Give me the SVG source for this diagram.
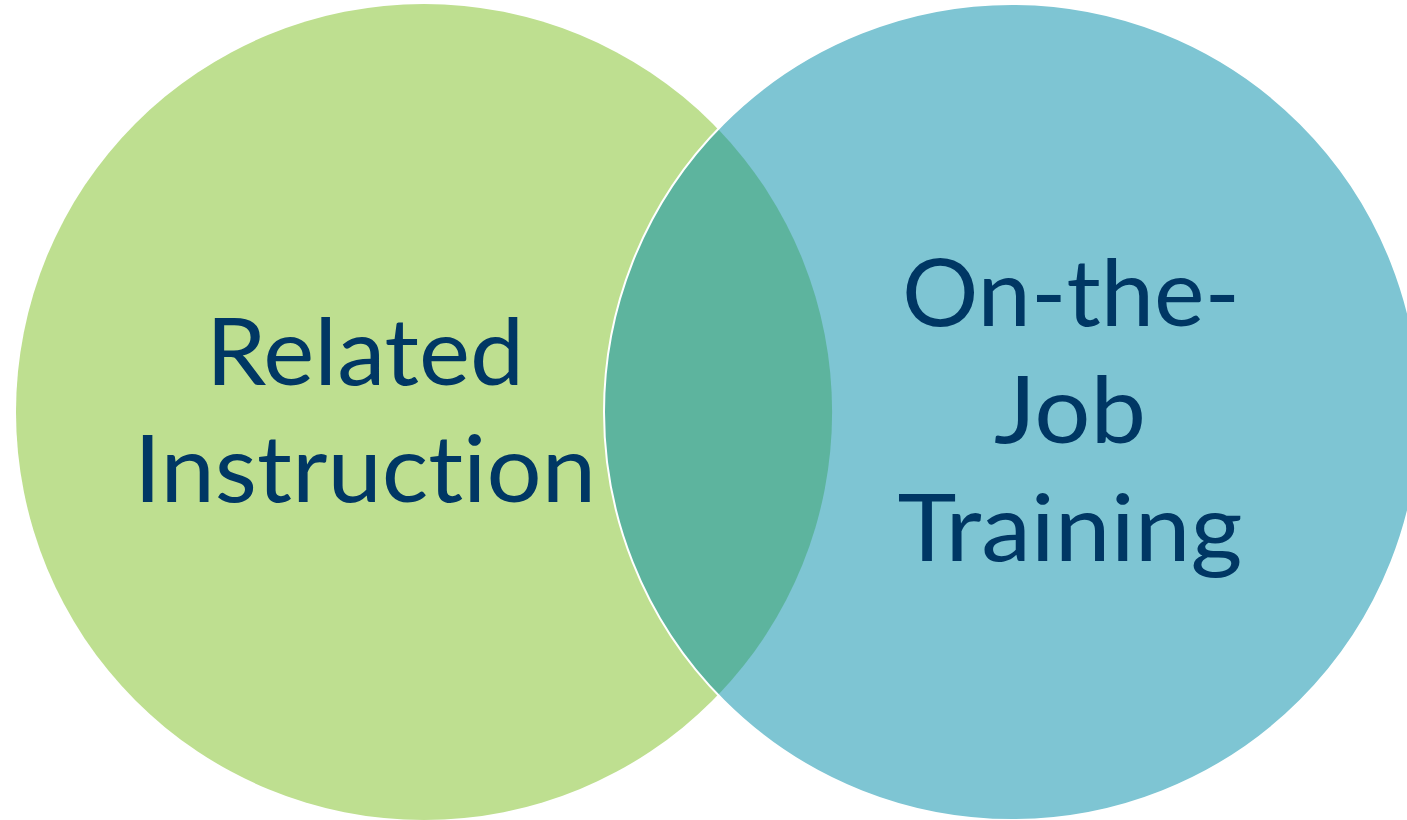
<svg xmlns="http://www.w3.org/2000/svg" width="1407" height="820" viewBox="0 0 1407 820">
<style>
.lbl{font-family:Lato,"Noto Sans","Liberation Sans",sans-serif;font-size:94px;fill:#003764;text-anchor:middle;font-variant-ligatures:none;font-feature-settings:"liga" 0,"clig" 0,"dlig" 0}
</style>
<rect width="1407" height="820" fill="#ffffff"/>
<g id="related-instruction">
<circle cx="424" cy="412" r="408" fill="#BEDF90"/>
</g>
<g id="on-the-job-training">
<circle cx="1012" cy="412" r="408" fill="#7EC5D3"/>
</g>
<g id="overlap">
<path d="M718,129 A408,408 0 0 1 718,695 A408,408 0 0 1 718,129 Z" fill="#5DB49E"/>
<circle cx="1012" cy="412" r="408" fill="none" stroke="#ffffff" stroke-width="2"/>
</g>
<g id="labels">
<text class="lbl" x="365" y="385" textLength="318" lengthAdjust="spacingAndGlyphs">Related</text>
<text class="lbl" x="365" y="502" textLength="462" lengthAdjust="spacingAndGlyphs">Instruction</text>
<text class="lbl" x="1071" y="326" textLength="338" lengthAdjust="spacingAndGlyphs">On-the-</text>
<text class="lbl" x="1070" y="443" textLength="152" lengthAdjust="spacingAndGlyphs">Job</text>
<text class="lbl" x="1070" y="561" textLength="345" lengthAdjust="spacingAndGlyphs">Training</text>
</g>
</svg>
